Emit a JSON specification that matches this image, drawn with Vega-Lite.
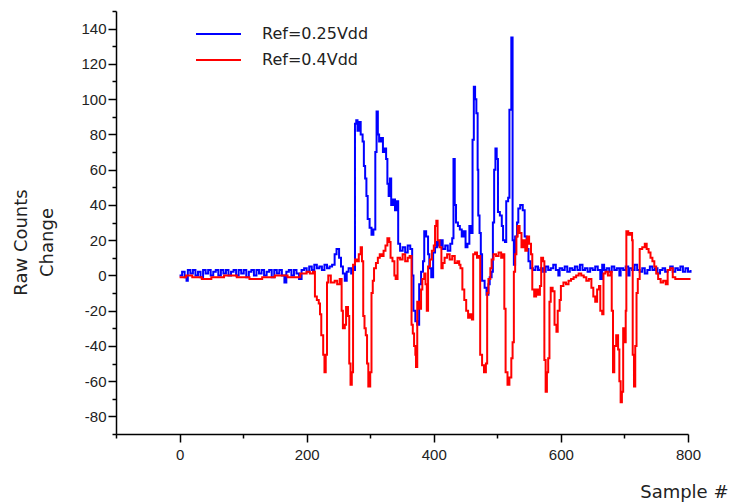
{
  "$schema": "https://vega.github.io/schema/vega-lite/v6.json",
  "width": 572,
  "height": 423,
  "autosize": {"type": "none"},
  "padding": {"left": 116, "top": 11, "right": 43, "bottom": 70},
  "background": "white",
  "config": {"view": {"stroke": null}, "font": "Liberation Sans"},
  "datasets": {
    "blue": [
      {"x":0,"y":0},{"x":4,"y":2},{"x":8,"y":-1},{"x":11,"y":-3},{"x":13,"y":3},{"x":17,"y":1},{"x":21,"y":3},{"x":25,"y":0},{"x":29,"y":2},{"x":33,"y":-1},{"x":37,"y":3},{"x":41,"y":1},{"x":45,"y":3},{"x":49,"y":0},{"x":53,"y":2},{"x":57,"y":3},{"x":61,"y":0},{"x":65,"y":3},{"x":69,"y":1},{"x":73,"y":3},{"x":77,"y":0},{"x":81,"y":2},{"x":85,"y":3},{"x":89,"y":0},{"x":93,"y":3},{"x":97,"y":1},{"x":101,"y":3},{"x":105,"y":-1},{"x":109,"y":2},{"x":113,"y":3},{"x":117,"y":0},{"x":121,"y":3},{"x":125,"y":1},{"x":129,"y":3},{"x":133,"y":0},{"x":137,"y":2},{"x":141,"y":3},{"x":145,"y":-1},{"x":149,"y":3},{"x":153,"y":1},{"x":157,"y":3},{"x":161,"y":0},{"x":165,"y":-4},{"x":168,"y":2},{"x":172,"y":3},{"x":176,"y":0},{"x":180,"y":3},{"x":184,"y":1},{"x":188,"y":-2},{"x":192,"y":3},{"x":196,"y":4},{"x":200,"y":2},{"x":204,"y":5},{"x":208,"y":3},{"x":212,"y":6},{"x":216,"y":4},{"x":220,"y":5},{"x":224,"y":3},{"x":228,"y":6},{"x":232,"y":4},{"x":236,"y":5},{"x":240,"y":6},{"x":244,"y":12},{"x":247,"y":15},{"x":251,"y":10},{"x":254,"y":5},{"x":257,"y":1},{"x":260,"y":-3},{"x":263,"y":2},{"x":266,"y":4},{"x":270,"y":1},{"x":273,"y":3},{"x":276,"y":86},{"x":278,"y":88},{"x":280,"y":82},{"x":282,"y":87},{"x":285,"y":80},{"x":288,"y":76},{"x":290,"y":62},{"x":292,"y":55},{"x":294,"y":45},{"x":296,"y":32},{"x":299,"y":27},{"x":302,"y":23},{"x":305,"y":26},{"x":308,"y":70},{"x":310,"y":93},{"x":312,"y":80},{"x":314,"y":76},{"x":317,"y":78},{"x":320,"y":70},{"x":323,"y":72},{"x":325,"y":66},{"x":327,"y":52},{"x":329,"y":45},{"x":331,"y":55},{"x":333,"y":40},{"x":336,"y":43},{"x":339,"y":37},{"x":342,"y":42},{"x":344,"y":18},{"x":347,"y":14},{"x":351,"y":16},{"x":355,"y":13},{"x":359,"y":17},{"x":363,"y":15},{"x":366,"y":0},{"x":368,"y":-20},{"x":371,"y":-26},{"x":374,"y":-28},{"x":377,"y":-5},{"x":380,"y":2},{"x":383,"y":8},{"x":385,"y":25},{"x":388,"y":22},{"x":391,"y":12},{"x":393,"y":4},{"x":396,"y":-1},{"x":399,"y":13},{"x":402,"y":16},{"x":405,"y":19},{"x":408,"y":17},{"x":411,"y":20},{"x":414,"y":15},{"x":418,"y":17},{"x":422,"y":14},{"x":426,"y":18},{"x":429,"y":21},{"x":431,"y":66},{"x":433,"y":40},{"x":435,"y":30},{"x":438,"y":28},{"x":441,"y":26},{"x":444,"y":22},{"x":447,"y":25},{"x":450,"y":16},{"x":453,"y":18},{"x":456,"y":28},{"x":459,"y":24},{"x":461,"y":77},{"x":463,"y":107},{"x":465,"y":100},{"x":467,"y":92},{"x":469,"y":60},{"x":470,"y":34},{"x":472,"y":24},{"x":474,"y":12},{"x":476,"y":-3},{"x":480,"y":-7},{"x":483,"y":-11},{"x":486,"y":-5},{"x":488,"y":-1},{"x":491,"y":2},{"x":493,"y":30},{"x":495,"y":60},{"x":497,"y":72},{"x":499,"y":66},{"x":501,"y":36},{"x":504,"y":34},{"x":507,"y":28},{"x":509,"y":20},{"x":512,"y":19},{"x":514,"y":42},{"x":517,"y":44},{"x":519,"y":94},{"x":522,"y":135},{"x":524,"y":20},{"x":526,"y":6},{"x":528,"y":22},{"x":531,"y":30},{"x":533,"y":38},{"x":536,"y":40},{"x":540,"y":37},{"x":543,"y":22},{"x":546,"y":15},{"x":549,"y":8},{"x":552,"y":4},{"x":556,"y":3},{"x":560,"y":5},{"x":564,"y":3},{"x":568,"y":4},{"x":572,"y":2},{"x":576,"y":5},{"x":580,"y":3},{"x":584,"y":4},{"x":588,"y":6},{"x":592,"y":3},{"x":596,"y":0},{"x":598,"y":4},{"x":602,"y":3},{"x":606,"y":5},{"x":610,"y":2},{"x":614,"y":4},{"x":618,"y":3},{"x":622,"y":5},{"x":626,"y":3},{"x":630,"y":6},{"x":634,"y":3},{"x":638,"y":4},{"x":642,"y":2},{"x":646,"y":4},{"x":650,"y":3},{"x":654,"y":5},{"x":658,"y":3},{"x":662,"y":-2},{"x":665,"y":6},{"x":668,"y":3},{"x":672,"y":4},{"x":676,"y":2},{"x":680,"y":5},{"x":684,"y":3},{"x":688,"y":4},{"x":692,"y":0},{"x":694,"y":4},{"x":698,"y":3},{"x":702,"y":5},{"x":706,"y":0},{"x":708,"y":4},{"x":712,"y":3},{"x":716,"y":6},{"x":720,"y":3},{"x":724,"y":2},{"x":728,"y":4},{"x":732,"y":1},{"x":736,"y":3},{"x":740,"y":5},{"x":744,"y":3},{"x":748,"y":4},{"x":752,"y":1},{"x":756,"y":3},{"x":760,"y":4},{"x":764,"y":2},{"x":768,"y":3},{"x":772,"y":5},{"x":776,"y":2},{"x":780,"y":4},{"x":784,"y":3},{"x":788,"y":5},{"x":792,"y":2},{"x":796,"y":4},{"x":800,"y":2},{"x":804,"y":3}
    ],
    "red": [
      {"x":0,"y":-1},{"x":10,"y":0},{"x":20,"y":-1},{"x":35,"y":-2},{"x":50,"y":-1},{"x":70,"y":0},{"x":90,"y":-1},{"x":110,"y":-2},{"x":130,"y":-1},{"x":150,"y":0},{"x":170,"y":-1},{"x":190,"y":1},{"x":200,"y":2},{"x":205,"y":1},{"x":210,"y":2},{"x":213,"y":-12},{"x":216,"y":-14},{"x":219,"y":-16},{"x":221,"y":-22},{"x":223,"y":-34},{"x":226,"y":-45},{"x":228,"y":-55},{"x":230,"y":-45},{"x":232,"y":-4},{"x":234,"y":0},{"x":238,"y":-4},{"x":244,"y":-3},{"x":248,"y":-5},{"x":252,"y":-2},{"x":255,"y":-20},{"x":257,"y":-30},{"x":260,"y":-28},{"x":262,"y":-18},{"x":265,"y":-23},{"x":267,"y":-50},{"x":269,"y":-62},{"x":271,"y":-55},{"x":273,"y":6},{"x":276,"y":9},{"x":279,"y":8},{"x":282,"y":12},{"x":285,"y":16},{"x":287,"y":8},{"x":289,"y":-23},{"x":291,"y":-30},{"x":293,"y":-34},{"x":295,"y":-50},{"x":297,"y":-63},{"x":300,"y":-55},{"x":302,"y":-10},{"x":304,"y":-3},{"x":306,"y":4},{"x":309,"y":7},{"x":312,"y":10},{"x":315,"y":12},{"x":318,"y":11},{"x":321,"y":14},{"x":324,"y":17},{"x":327,"y":21},{"x":330,"y":19},{"x":332,"y":10},{"x":335,"y":8},{"x":338,"y":0},{"x":340,"y":-2},{"x":343,"y":10},{"x":347,"y":9},{"x":351,"y":12},{"x":355,"y":8},{"x":359,"y":10},{"x":362,"y":11},{"x":365,"y":-28},{"x":367,"y":-33},{"x":369,"y":-40},{"x":371,"y":-45},{"x":372,"y":-52},{"x":374,"y":-15},{"x":377,"y":-19},{"x":380,"y":-8},{"x":382,"y":-2},{"x":385,"y":1},{"x":387,"y":-5},{"x":389,"y":-20},{"x":391,"y":5},{"x":394,"y":9},{"x":397,"y":14},{"x":400,"y":17},{"x":402,"y":28},{"x":404,"y":31},{"x":406,"y":20},{"x":409,"y":16},{"x":412,"y":4},{"x":414,"y":7},{"x":417,"y":10},{"x":421,"y":12},{"x":425,"y":9},{"x":429,"y":11},{"x":433,"y":7},{"x":437,"y":8},{"x":440,"y":6},{"x":442,"y":4},{"x":445,"y":-8},{"x":448,"y":-14},{"x":451,"y":-20},{"x":454,"y":-24},{"x":457,"y":-22},{"x":460,"y":-25},{"x":462,"y":12},{"x":465,"y":13},{"x":468,"y":10},{"x":471,"y":11},{"x":473,"y":-45},{"x":476,"y":-51},{"x":479,"y":-55},{"x":482,"y":-50},{"x":484,"y":-10},{"x":486,"y":-2},{"x":489,"y":4},{"x":491,"y":9},{"x":494,"y":12},{"x":498,"y":11},{"x":502,"y":13},{"x":506,"y":10},{"x":509,"y":12},{"x":511,"y":-19},{"x":513,"y":-55},{"x":516,"y":-62},{"x":519,"y":-58},{"x":522,"y":-47},{"x":524,"y":-38},{"x":526,"y":2},{"x":528,"y":12},{"x":530,"y":22},{"x":532,"y":28},{"x":535,"y":24},{"x":538,"y":16},{"x":541,"y":20},{"x":544,"y":14},{"x":547,"y":22},{"x":550,"y":18},{"x":553,"y":12},{"x":555,"y":-8},{"x":558,"y":-12},{"x":561,"y":-8},{"x":564,"y":-11},{"x":567,"y":-6},{"x":569,"y":10},{"x":572,"y":8},{"x":574,"y":-48},{"x":576,"y":-66},{"x":578,"y":-55},{"x":580,"y":-47},{"x":582,"y":-15},{"x":584,"y":-7},{"x":587,"y":-9},{"x":590,"y":-28},{"x":593,"y":-32},{"x":595,"y":-20},{"x":598,"y":-14},{"x":600,"y":-6},{"x":604,"y":-4},{"x":608,"y":-5},{"x":612,"y":-3},{"x":616,"y":-2},{"x":620,"y":-1},{"x":624,"y":0},{"x":628,"y":1},{"x":632,"y":0},{"x":636,"y":-1},{"x":640,"y":-3},{"x":644,"y":-2},{"x":648,"y":-7},{"x":651,"y":-12},{"x":654,"y":-15},{"x":657,"y":-8},{"x":660,"y":-6},{"x":662,"y":-20},{"x":665,"y":-22},{"x":667,"y":1},{"x":670,"y":2},{"x":674,"y":0},{"x":678,"y":2},{"x":680,"y":-20},{"x":682,"y":-55},{"x":684,"y":-40},{"x":687,"y":-34},{"x":690,"y":-42},{"x":692,"y":-60},{"x":694,"y":-72},{"x":696,"y":-66},{"x":698,"y":-30},{"x":700,"y":-38},{"x":702,"y":-20},{"x":703,"y":25},{"x":706,"y":23},{"x":709,"y":24},{"x":712,"y":20},{"x":713,"y":-45},{"x":715,"y":-63},{"x":717,"y":-40},{"x":719,"y":-10},{"x":721,"y":-2},{"x":724,"y":15},{"x":728,"y":16},{"x":732,"y":18},{"x":735,"y":15},{"x":738,"y":13},{"x":741,"y":10},{"x":744,"y":8},{"x":747,"y":5},{"x":750,"y":1},{"x":753,"y":-2},{"x":757,"y":-4},{"x":761,"y":-3},{"x":765,"y":-5},{"x":768,"y":3},{"x":772,"y":4},{"x":776,"y":-1},{"x":780,"y":-2},{"x":790,"y":-2},{"x":804,"y":-2}
    ]
  },
  "encoding": {
    "x": {
      "field": "x",
      "type": "quantitative",
      "scale": {"domain": [-100, 800], "nice": false, "zero": false},
      "axis": {
        "values": [-100, 0, 100, 200, 300, 400, 500, 600, 700, 800],
        "labelExpr": "datum.value % 200 === 0 ? '' + datum.value : ''",
        "tickSize": {"condition": {"test": "datum.value % 200 === 0", "value": 8}, "value": 4},
        "grid": false,
        "domainColor": "#000",
        "tickColor": "#000",
        "domainWidth": 1.5,
        "tickWidth": 1.5,
        "labelFontSize": 15,
        "labelColor": "#222",
        "labelPadding": 5,
        "labelFlush": false,
        "title": "Sample #",
        "titleX": 612,
        "titleY": 58,
        "titleAlign": "right",
        "titleBaseline": "middle",
        "titleFont": "DejaVu Sans",
        "titleFontSize": 18,
        "titleFontWeight": "normal",
        "titleColor": "#222"
      }
    },
    "y": {
      "field": "y",
      "type": "quantitative",
      "scale": {"domain": [-90, 150], "nice": false, "zero": false},
      "axis": {
        "values": [-90, -80, -70, -60, -50, -40, -30, -20, -10, 0, 10, 20, 30, 40, 50, 60, 70, 80, 90, 100, 110, 120, 130, 140, 150],
        "labelExpr": "datum.value % 20 === 0 ? '' + datum.value : ''",
        "tickSize": {"condition": {"test": "datum.value % 20 === 0", "value": 8}, "value": 4},
        "grid": false,
        "domainColor": "#000",
        "tickColor": "#000",
        "domainWidth": 1.5,
        "tickWidth": 1.5,
        "labelFontSize": 15,
        "labelColor": "#222",
        "labelPadding": 2,
        "labelFlush": false,
        "title": ["Raw Counts", "Change"],
        "titleAngle": -90,
        "titleX": -95,
        "titleY": 231,
        "titleAlign": "center",
        "titleBaseline": "middle",
        "titleLineHeight": 26,
        "titleFont": "DejaVu Sans",
        "titleFontSize": 18,
        "titleFontWeight": "normal",
        "titleColor": "#222"
      }
    },
    "color": {
      "scale": {"domain": ["Ref=0.25Vdd", "Ref=0.4Vdd"], "range": ["#0000ff", "#ff0000"]},
      "legend": {
        "orient": "none",
        "legendX": 79,
        "legendY": 15,
        "title": null,
        "padding": 0,
        "symbolType": "stroke",
        "symbolSize": 2025,
        "symbolStrokeWidth": 2,
        "labelFont": "DejaVu Sans",
        "labelFontSize": 16,
        "labelColor": "#222",
        "labelOffset": 20,
        "rowPadding": 10,
        "clipHeight": 16
      }
    }
  },
  "layer": [
    {
      "data": {"name": "blue"},
      "mark": {"type": "line", "interpolate": "step-after", "strokeWidth": 2},
      "encoding": {"color": {"datum": "Ref=0.25Vdd"}}
    },
    {
      "data": {"name": "red"},
      "mark": {"type": "line", "interpolate": "step-after", "strokeWidth": 2},
      "encoding": {"color": {"datum": "Ref=0.4Vdd"}}
    }
  ]
}
